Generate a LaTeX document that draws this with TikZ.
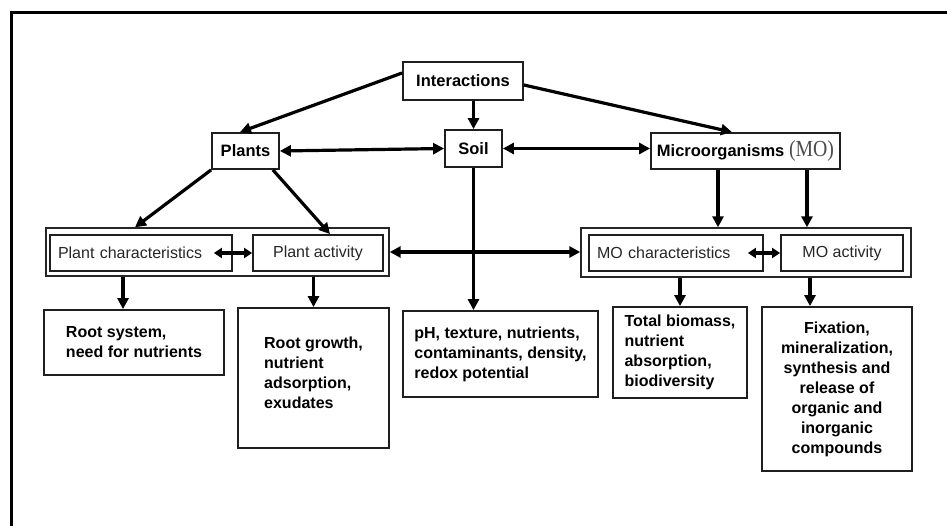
\documentclass[tikz,border=0pt]{standalone}
\usepackage{fontspec}
\setmainfont{Liberation Sans}
\newfontfamily\serifMO{Liberation Serif}
\usetikzlibrary{arrows.meta,calc}
\begin{document}
\begin{tikzpicture}[x=1pt,y=-1pt,
  box/.style={draw=black!88,line width=1.8pt,inner sep=0pt,text=black,
    font=\fontsize{16}{20}\selectfont},
  topbox/.style={box,font=\fontsize{16.5}{20}\selectfont\bfseries},
  midbox/.style={box,text=black!85,font=\fontsize{16}{20}\selectfont},
  charbox/.style={midbox,align=left,inner xsep=8pt},
  groupbox/.style={draw=black!85,line width=1.4pt,inner sep=0pt},
  lowbox/.style={box,align=left,font=\fontsize{16}{20}\selectfont\bfseries},
  arr/.style={line width=3.2pt,-{Triangle[length=11pt,width=11pt]}},
  darr/.style={line width=3.2pt,{Triangle[length=11pt,width=11pt]}-{Triangle[length=11pt,width=11pt]}},
  sdarr/.style={line width=3.2pt,{Triangle[length=8pt,width=10pt]}-{Triangle[length=8pt,width=10pt]}}
]
\useasboundingbox (0,0) rectangle (947,526);
% frame
\draw[line width=3pt] (11,526) -- (11,13) -- (947,13);

% top row
\node[topbox,minimum width=120pt,minimum height=38pt] (inter) at (463,81) {Interactions};
\node[topbox,minimum width=57pt,minimum height=37pt] (soil) at (473.5,148.5) {Soil};
\node[topbox,minimum width=67pt,minimum height=36pt] (plants) at (245.5,151) {Plants};
\node[topbox,minimum width=189pt,minimum height=36pt] (micro) at (745.5,151)
  {Microorganisms {\serifMO\mdseries\fontsize{23}{23}\selectfont\color{black!70}\scalebox{0.86}[1]{(MO)}}};

% middle groups
\node[groupbox,minimum width=343pt,minimum height=48pt] (pgroup) at (217.5,252) {};
\node[charbox,text width=166pt,minimum height=36pt] (pchar) at (141,253) {Plant characteristics};
\node[midbox,minimum width=130pt,minimum height=36pt] (pact) at (318,253) {Plant activity};
\node[groupbox,minimum width=330pt,minimum height=49pt] (mgroup) at (746,252.5) {};
\node[charbox,text width=158pt,minimum height=36pt] (mchar) at (676,253) {MO characteristics};
\node[midbox,minimum width=122pt,minimum height=36pt] (mact) at (842,253) {MO activity};

% bottom row
\node[lowbox,minimum width=180pt,minimum height=65pt] (root) at (134,342.5)
  {Root system,\\need for nutrients};
\node[lowbox,minimum width=151pt,minimum height=140pt] (growth) at (313.5,378)
  {Root growth,\\nutrient\\adsorption,\\exudates\\[-10pt]\mbox{}};
\node[lowbox,minimum width=195pt,minimum height=86pt] (ph) at (500.5,354)
  {pH, texture, nutrients,\\contaminants, density,\\redox potential};
\node[lowbox,minimum width=134pt,minimum height=91pt] (bio) at (680,352.5)
  {Total biomass,\\nutrient\\absorption,\\biodiversity};
\node[lowbox,align=center,minimum width=150pt,minimum height=164pt] (fix) at (837,389)
  {Fixation,\\mineralization,\\synthesis and\\release of\\organic and\\inorganic\\compounds};

% helper coordinates
\coordinate (m1) at ([xshift=-27.5pt]micro.south);
\coordinate (m2) at ([xshift=61.5pt]micro.south);
\coordinate (r1) at ([xshift=-11pt]root.north);
\coordinate (f1) at ([xshift=-27pt]fix.north);

% connectors
\draw[arr] ([yshift=8pt]inter.west) -- ([xshift=-5.5pt]plants.north);
\draw[arr] (inter.south -| soil.north) -- (soil.north);
\draw[arr] ([yshift=-4pt]inter.east) -- ([xshift=-13.5pt]micro.north);
\draw[darr] (plants.east) -- (soil.west);
\draw[darr] (soil.east) -- (soil.east -| micro.west);
\draw[arr] (plants.south west) -- ([xshift=-82.5pt]pgroup.north);
\draw[arr] ([xshift=-7pt]plants.south east) -- ([xshift=12pt]pact.north);
\draw[sdarr] ([xshift=-19pt]pchar.east) -- (pact.west);
\draw[sdarr] ([xshift=-16pt]mchar.east) -- (mact.west);
\draw[arr] (soil.south) -- (soil.south |- ph.north);
\draw[darr] (pgroup.east) -- (pgroup.east -| mgroup.west);
\draw[arr] (m1) -- (m1 |- mgroup.north);
\draw[arr] (m2) -- (m2 |- mgroup.north);
\draw[arr] (r1 |- pgroup.south) -- (r1);
\draw[arr] (growth.north |- pgroup.south) -- (growth.north);
\draw[arr] (bio.north |- mgroup.south) -- (bio.north);
\draw[arr] (f1 |- mgroup.south) -- (f1);
\end{tikzpicture}
\end{document}
